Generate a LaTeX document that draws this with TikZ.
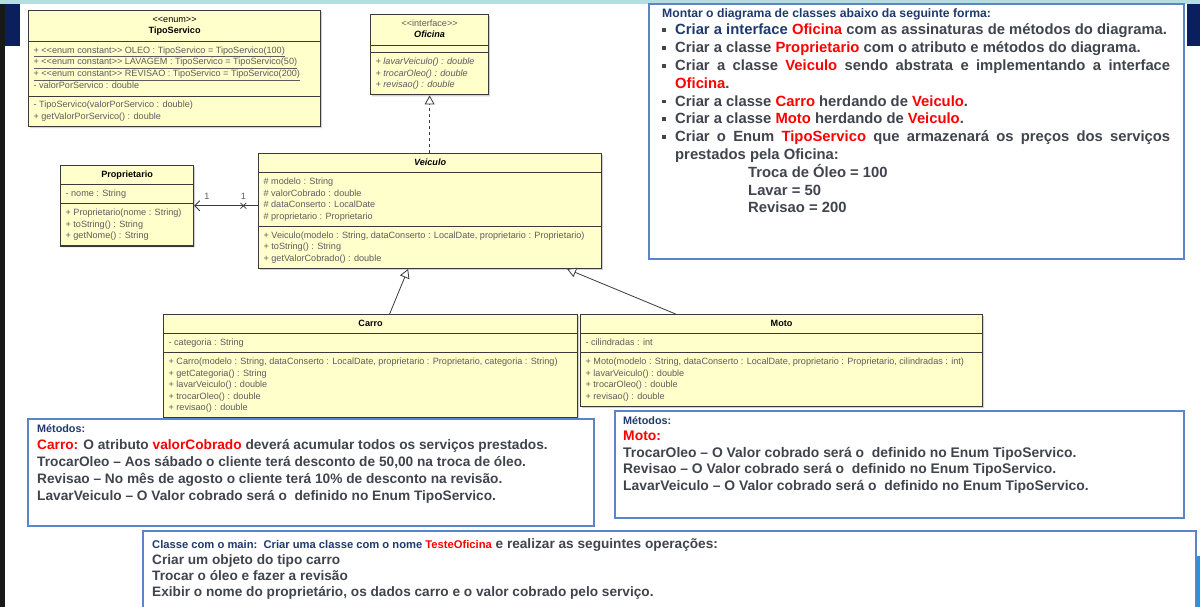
\documentclass[tikz,border=0pt]{standalone}
\usepackage{fontspec}
\setmainfont{Liberation Sans}
\usetikzlibrary{arrows.meta,positioning,shapes.multipart,shapes.misc,shadows}
\definecolor{umlfill}{HTML}{FFFFCC}
\definecolor{umlline}{HTML}{3A3A3A}
\definecolor{umltext}{HTML}{5C5C5C}
\definecolor{noteline}{HTML}{5B85C6}
\definecolor{navy}{HTML}{1F3A6E}
\definecolor{txtgray}{HTML}{40444C}
\definecolor{hl}{HTML}{FF0000}
\definecolor{topband}{HTML}{B5DEE2}
\definecolor{darknavy}{HTML}{0B1F5E}
\definecolor{brightblue}{HTML}{1E96E6}
\newcommand{\umlfont}{\fontsize{9.1}{11.5}\selectfont}
\newcommand{\red}[1]{\textcolor{hl}{#1}}
\newcommand{\crows}[1]{\begin{tabular}{@{}c@{}}#1\end{tabular}}
\newcommand{\lrows}[1]{\begin{tabular}{@{}l@{}}#1\end{tabular}}
\newcommand{\bul}{\par\hangindent=13pt\hangafter=1\noindent\makebox[13pt][l]{\raisebox{2.8pt}{\rule{3.6pt}{3.6pt}}}}

\begin{document}
\begin{tikzpicture}[x=1pt,y=-1pt,
  umlclass/.style={draw=umlline,line width=1.2pt,fill=umlfill,anchor=north west,
    rectangle split,rectangle split parts=3,rectangle split part align={center,left,left},
    inner xsep=5pt,inner ysep=3.2pt,font=\umlfont,text=umltext,
    drop shadow={opacity=.35,shadow xshift=1.5pt,shadow yshift=-1.5pt}},
  note/.style={draw=noteline,line width=1.8pt,fill=white,anchor=north west,inner sep=0pt,
    drop shadow={opacity=.15,shadow xshift=1.5pt,shadow yshift=-1.5pt}},
  notetxt/.style={inner sep=0pt,text=txtgray,font=\bfseries},
  assoc/.style={-{Straight Barb[length=5pt,width=10pt]},draw=umlline,line width=.8pt},
  inherit/.style={-{Triangle[length=9pt,width=10pt,fill=white]},draw=umlline,line width=.8pt},
  realize/.style={inherit,dashed},
  xmark/.style={cross out,draw=umlline,line width=.8pt,minimum size=5pt,inner sep=0pt},
  mult/.style={font=\umlfont,text=umltext,inner sep=1pt}]
  \useasboundingbox (0,0) rectangle (1200,607);
  \fill[white] (0,0) rectangle (1200,607);
  % screen border
  \fill[topband] (0,0) rectangle (1200,4);
  \fill[black!90] (0,4) rectangle (5,607);
  \fill[darknavy] (5,4) rectangle (20,46);
  \fill[darknavy] (1187,4) rectangle (1200,46);
  \fill[brightblue] (1196,556) rectangle (1200,607);
  \fill[black!85] (470,602) rectangle (745,607);

  % classes
  \node[umlclass,minimum width=292pt] (tiposervico) at (28,10) {
    \crows{\color{black}<{}<enum>{}>\\\color{black}\textbf{TipoServico}}
    \nodepart{two}\lrows{\underline{+ <{}<enum constant>{}> OLEO : TipoServico = TipoServico(100)}\\
      \underline{+ <{}<enum constant>{}> LAVAGEM : TipoServico = TipoServico(50)}\\
      \underline{+ <{}<enum constant>{}> REVISAO : TipoServico = TipoServico(200)}\\
      - valorPorServico : double}
    \nodepart{three}\lrows{- TipoServico(valorPorServico : double)\\
      + getValorPorServico() : double}};
  \node[umlclass,minimum width=118pt] (oficina) at (370,14) {%
    \crows{<{}<interface>{}>\\\color{black}\textbf{\textit{Oficina}}}%
    \nodepart{two}\rule{0.1pt}{0pt}%
    \nodepart{three}\itshape\lrows{+ lavarVeiculo() : double\\
      + trocarOleo() : double\\+ revisao() : double}};
  \node[umlclass,minimum width=133pt] (proprietario) at (60,165) {
    \crows{\color{black}\textbf{Proprietario}}
    \nodepart{two}\lrows{- nome : String}
    \nodepart{three}\lrows{+ Proprietario(nome : String)\\
      + toString() : String\\+ getNome() : String}};
  \node[umlclass,minimum width=343pt] (veiculo) at (258,153) {
    \crows{\color{black}\textbf{\textit{Veiculo}}}
    \nodepart{two}\lrows{\# modelo : String\\\# valorCobrado : double\\
      \# dataConserto : LocalDate\\\# proprietario : Proprietario}
    \nodepart{three}\lrows{+ Veiculo(modelo : String, dataConserto : LocalDate, proprietario : Proprietario)\\
      + toString() : String\\+ getValorCobrado() : double}};
  \node[umlclass,minimum width=414pt] (carro) at (163,314) {
    \crows{\color{black}\textbf{Carro}}
    \nodepart{two}\lrows{- categoria : String}
    \nodepart{three}\lrows{+ Carro(modelo : String, dataConserto : LocalDate, proprietario : Proprietario, categoria : String)\\
      + getCategoria() : String\\+ lavarVeiculo() : double\\
      + trocarOleo() : double\\+ revisao() : double}};
  \node[umlclass,minimum width=402pt] (moto) at (580,314) {
    \crows{\color{black}\textbf{Moto}}
    \nodepart{two}\lrows{- cilindradas : int}
    \nodepart{three}\lrows{+ Moto(modelo : String, dataConserto : LocalDate, proprietario : Proprietario, cilindradas : int)\\
      + lavarVeiculo() : double\\+ trocarOleo() : double\\+ revisao() : double}};

  % relations
  \draw[realize] (veiculo.north -| oficina.south) -- (oficina.south);
  \draw[assoc] (veiculo.west |- proprietario.east)
    -- node[xmark,pos=.23,label={[mult,yshift=2pt]above:1}] (navx) {}
       node[mult,pos=.8,above=5pt] (mprop) {1} (proprietario.east);
  \draw[inherit] ([xshift=19pt]carro.north) -- ([xshift=-22pt]veiculo.south);
  \draw[inherit] ([xshift=-106pt]moto.north) -- ([xshift=137pt]veiculo.south);

  % notes
  \node[note,minimum width=535pt,minimum height=255pt] (tarefas) at (648,3) {};
  \node[notetxt,text width=508pt,align=justify,below right=5pt and 14pt of tarefas.north west,
    font=\bfseries\fontsize{14.8}{17.8}\selectfont] (tarefastxt) {
    {\fontsize{12.2}{14}\selectfont\color{navy}Montar o diagrama de classes abaixo da seguinte forma:}
    \bul{\color{navy}Criar a interface} \red{Oficina} com as assinaturas de métodos do diagrama.
    \bul Criar a classe \red{Proprietario} com o atributo e métodos do diagrama.
    \bul Criar a classe \red{Veiculo} sendo abstrata e implementando a interface\linebreak \red{Oficina}.
    \bul Criar a classe \red{Carro} herdando de \red{Veiculo}.
    \bul Criar a classe \red{Moto} herdando de \red{Veiculo}.
    \bul Criar o Enum \red{TipoServico} que armazenará os preços dos serviços\linebreak prestados pela Oficina:
    \par\noindent\hspace*{86pt}Troca de Óleo = 100
    \par\noindent\hspace*{86pt}Lavar = 50
    \par\noindent\hspace*{86pt}Revisao = 200\par};

  \node[note,minimum width=566pt,minimum height=107pt] (metcarro) at (27,418) {};
  \node[notetxt,align=left,below right=6pt and 10pt of metcarro.north west,
    font=\bfseries\fontsize{13.7}{17}\selectfont] (metcarrotxt) {
    {\fontsize{10.8}{13}\selectfont\color{navy}Métodos:}\\
    \red{Carro:} O atributo \red{valorCobrado} deverá acumular todos os serviços prestados.\\
    TrocarOleo – Aos sábado o cliente terá desconto de 50,00 na troca de óleo.\\
    Revisao – No mês de agosto o cliente terá 10\% de desconto na revisão.\\
    LavarVeiculo – O Valor cobrado será o~ definido no Enum TipoServico.};

  \node[note,minimum width=569pt,minimum height=107pt] (metmoto) at (614,410) {};
  \node[notetxt,align=left,below right=6pt and 9pt of metmoto.north west,
    font=\bfseries\fontsize{13.9}{16.5}\selectfont] (metmototxt) {
    {\fontsize{10.8}{13}\selectfont\color{navy}Métodos:}\\
    \red{Moto:}\\
    TrocarOleo – O Valor cobrado será o~ definido no Enum TipoServico.\\
    Revisao – O Valor cobrado será o~ definido no Enum TipoServico.\\
    LavarVeiculo – O Valor cobrado será o~ definido no Enum TipoServico.};

  \node[note,minimum width=1053pt,minimum height=90pt] (mainbox) at (142,530) {};
  \node[notetxt,align=left,below right=8pt and 10pt of mainbox.north west,
    font=\bfseries\fontsize{13.65}{16.3}\selectfont] (maintxt) {
    {\fontsize{11.2}{13}\selectfont\color{navy}Classe com o main:\ \ Criar uma classe com o nome \red{TesteOficina}} e realizar as seguintes operações:\\
    Criar um objeto do tipo carro\\
    Trocar o óleo e fazer a revisão\\
    Exibir o nome do proprietário, os dados carro e o valor cobrado pelo serviço.};
\end{tikzpicture}
\end{document}
